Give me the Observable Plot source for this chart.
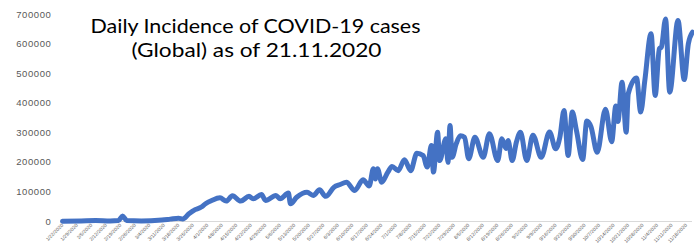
<!DOCTYPE html>
<html>
<head>
<meta charset="utf-8">
<script src="https://cdn.jsdelivr.net/npm/d3@7"></script>
<script src="https://cdn.jsdelivr.net/npm/@observablehq/plot@0.6"></script>
<style>
  html, body { margin: 0; padding: 0; background: #fff; }
  #chart { width: 694px; height: 245px; }
</style>
</head>
<body>
<div id="chart"></div>
<script>
// Days since 1/22/2020 and daily new cases
const days = [0,9,16,23,27,29,31,38,48,52,56,58,61,64,67,69,72,76,79,82,86,90,92,96,98,103,105,109,110,113,118,121,124,127,131,134,137,141,145,148,150,151,152,154,157,159,162,165,168,171,174,176,178,179,181,182,185,186,187,188,190,192,194,196,199,203,206,210,212,214,215,217,219,221,224,227,231,235,238,240,242,244,246,248,251,253,255,258,262,265,267,268,270,272,273,277,279,281,284,286,288,289,291,293,297,300,302,304];
const cases = [600,2000,3500,2000,3000,19000,3000,1500,5000,8000,11000,8500,26000,40000,49000,60000,71000,80000,69000,87000,69000,85000,77000,91000,71000,88000,77000,96000,60000,82000,99000,88000,107000,85000,116000,125000,133000,105000,141000,120000,178000,144000,178000,133000,167000,186000,172000,209000,172000,231000,223000,184000,257000,167000,302000,206000,280000,200000,325000,217000,263000,290000,285000,212000,285000,217000,297000,206000,280000,247000,274000,206000,268000,302000,206000,292000,217000,303000,246000,285000,375000,223000,370000,308000,210000,340000,321000,234000,380000,270000,391000,338000,471000,302000,432000,485000,370000,477000,635000,426000,584000,590000,685000,437000,680000,480000,601000,640000];

const yTicks = [0,100000,200000,300000,400000,500000,600000,700000];
const tickDays = [0,7,14,21,28,35,42,49,56,63,70,77,84,91,98,105,112,119,126,133,140,147,154,161,168,175,182,189,196,203,210,217,224,231,238,245,252,259,266,273,280,287,294,301];
const tickLabels = ["1/22/2020","1/29/2020","2/5/2020","2/12/2020","2/19/2020","2/26/2020","3/4/2020","3/11/2020","3/18/2020","3/25/2020","4/1/2020","4/8/2020","4/15/2020","4/22/2020","4/29/2020","5/6/2020","5/13/2020","5/20/2020","5/27/2020","6/3/2020","6/10/2020","6/17/2020","6/24/2020","7/1/2020","7/8/2020","7/15/2020","7/22/2020","7/29/2020","8/5/2020","8/12/2020","8/19/2020","8/26/2020","9/2/2020","9/9/2020","9/16/2020","9/23/2020","9/30/2020","10/7/2020","10/14/2020","10/21/2020","10/28/2020","11/4/2020","11/11/2020","11/18/2020"];
const titleLines = ["Daily Incidence of COVID-19 cases", "(Global) as of 21.11.2020"];

const data = days.map((d, i) => ({day: d, value: cases[i]}));
const labelOf = new Map(tickDays.map((d, i) => [d, tickLabels[i]]));

const chart = Plot.plot({
  width: 694,
  height: 245,
  marginLeft: 62,
  marginRight: 2,
  marginTop: 14,
  marginBottom: 24,
  style: {fontFamily: "'Liberation Sans', Arial, sans-serif", background: "#fff", overflow: "visible"},
  x: {domain: [0, 304], axis: null},
  y: {domain: [0, 700000], axis: null},
  marks: [
    Plot.ruleY([0], {stroke: "#d9d9d9", strokeWidth: 1}),
    Plot.axisY({ticks: yTicks, tickSize: 0, tickPadding: 11, tickFormat: d => String(d), fontSize: 9.5, fill: "#595959", label: null}),
    Plot.axisX({ticks: tickDays, tickSize: 0, tickPadding: 3, tickRotate: -45, tickFormat: d => labelOf.get(d), fontSize: 5, fill: "#595959", label: null}),
    Plot.line(data, {x: "day", y: "value", stroke: "#4472C4", strokeWidth: 5, curve: "monotone-x", strokeLinejoin: "round", strokeLinecap: "round"}),
    Plot.text([titleLines[0]], {frameAnchor: "top", lineAnchor: "top", dx: -122, dy: 4, fontSize: 20, fontFamily: "Lato, sans-serif", fill: "#000"}),
    Plot.text([titleLines[1]], {frameAnchor: "top", lineAnchor: "top", dx: -121, dy: 28, fontSize: 20, fontFamily: "Lato, sans-serif", fill: "#000"})
  ]
});
document.getElementById("chart").appendChild(chart);
const svg = d3.select(chart);
svg.selectAll('g[aria-label="y-axis tick label"] text').attr("letter-spacing", "0.6px");
svg.selectAll("text").each(function() {
  const t = this.textContent;
  if (t === titleLines[0]) d3.select(this).attr("textLength", 330).attr("lengthAdjust", "spacingAndGlyphs");
  if (t === titleLines[1]) d3.select(this).attr("textLength", 250).attr("lengthAdjust", "spacingAndGlyphs");
});
</script>
</body>
</html>
